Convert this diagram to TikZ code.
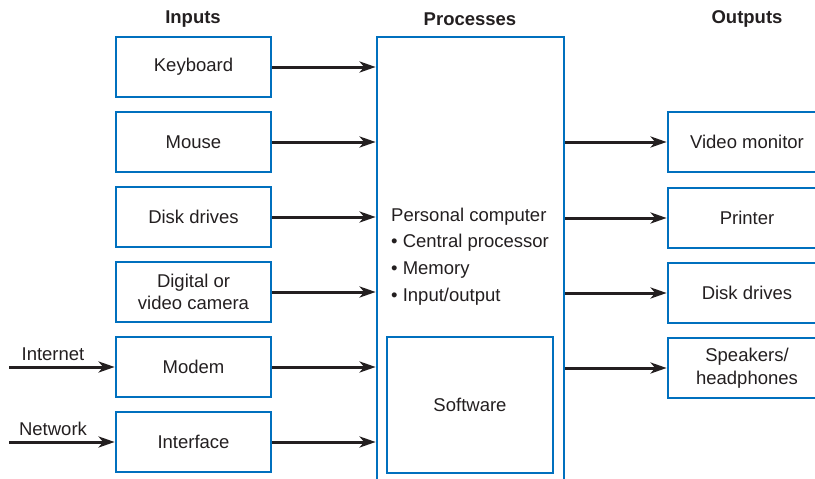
\documentclass[tikz,border=0pt]{standalone}
\usepackage{fontspec}
\setmainfont{Liberation Sans}
\usetikzlibrary{arrows.meta}
\definecolor{boxblue}{RGB}{0,112,190}
\definecolor{ink}{RGB}{35,31,32}
\tikzset{
  unit/.style={draw=boxblue, line width=2.8pt, minimum width=155pt, minimum height=60pt,
    inner sep=2pt, align=center, text=ink, font=\fontsize{18.5}{22.5}\selectfont},
  outbox/.style={unit, minimum width=158pt},
  head/.style={text=ink, font=\fontsize{18.5}{22}\selectfont\bfseries},
  lbl/.style={text=ink, font=\fontsize{18.5}{22}\selectfont},
  flow/.style={draw=ink, line width=3pt, -{Stealth[length=16pt,width=11pt,inset=4.5pt]}}
}
\begin{document}
\begin{tikzpicture}[x=1pt,y=-1pt]
\useasboundingbox (0,0) rectangle (815,479);
\begin{scope}
\clip (0,0) rectangle (815,479);
% headings
\node[head] (hin) at (193,19) {Inputs};
\node[head] (hpr) at (470,19) {Processes};
\node[head] (hout) at (747,19) {Outputs};
% input devices
\node[unit] (kbd) at (193.5,67) {Keyboard};
\node[unit] (mouse) at (193.5,142) {Mouse};
\node[unit] (disk) at (193.5,217) {Disk drives};
\node[unit] (cam) at (193.5,292) {Digital or\\video camera};
\node[unit] (modem) at (193.5,367) {Modem};
\node[unit] (iface) at (193.5,442) {Interface};
% processing unit (runs past the lower edge)
\node[draw=boxblue, line width=2.8pt, minimum width=187pt, minimum height=470pt,
      inner sep=0pt] (pc) at (470.5,272) {};
\node[draw=boxblue, line width=2.8pt, minimum width=166pt, minimum height=136pt,
      text=ink, font=\fontsize{18.5}{22}\selectfont] (soft) at (470,405) {Software};
\node[lbl, align=left, font=\fontsize{18.5}{26.7}\selectfont] (pctext) at (470,256.5)
  {Personal computer\\\textbullet\ Central processor\\\textbullet\ Memory\\\textbullet\ Input/output};
% output devices (run past the right edge)
\node[outbox] (vm) at (747,142) {Video monitor};
\node[outbox] (prn) at (747,218) {Printer};
\node[outbox] (dout) at (747,293) {Disk drives};
\node[outbox] (spk) at (747,368) {Speakers/\\headphones};
\end{scope}
% external sources
\coordinate (inet) at (9,367);
\coordinate (net) at (9,442);
\node[lbl] (linet) at (53,354) {Internet};
\node[lbl] (lnet) at (53,429) {Network};
\draw[flow] (inet) -- (modem.west);
\draw[flow] (net) -- (iface.west);
% inputs into the computer
\foreach \n in {kbd,mouse,disk,cam,modem,iface}
  \draw[flow] (\n.east) -- (\n.east -| pc.west);
% outputs from the computer
\foreach \n in {vm,prn,dout,spk}
  \draw[flow] (\n.west -| pc.east) -- (\n.west);
\end{tikzpicture}
\end{document}
